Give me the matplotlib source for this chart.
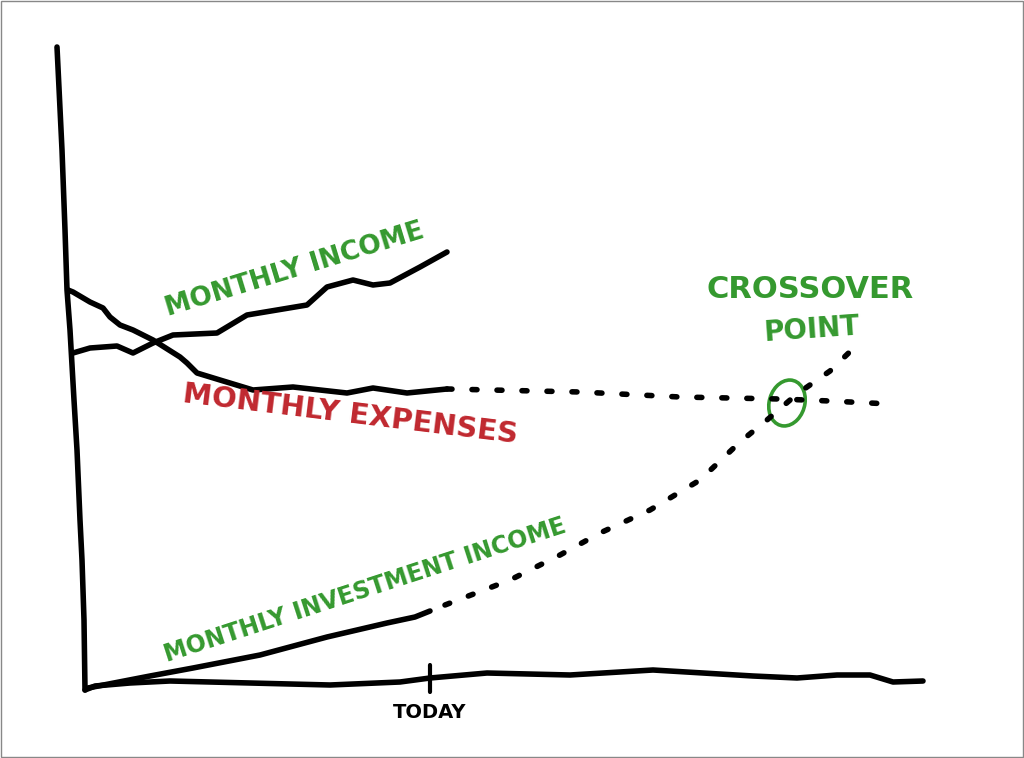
import matplotlib
matplotlib.use('Agg')
import matplotlib.pyplot as plt
from matplotlib.patches import Ellipse, Rectangle

GREEN = '#35992f'
RED = '#c0282f'

# hand drawn axes (x = months, y = dollars, arbitrary units)
yaxis_x = [-2.3, -2.1, -1.8, -1.5, -1.3, -1.0, -0.6, -0.3, 0.0, 0.2, 0.4, 0.5]
yaxis_y = [128.2, 120.0, 107.6, 91.6, 79.6, 71.6, 57.6, 47.6, 33.6, 25.6, 13.6, -0.4]
xaxis_x = [0.5, 1.5, 5.0, 9.0, 17.0, 25.0, 32.0, 35.0, 40.7, 49.0, 57.3, 67.3, 71.7, 75.7, 79.0, 81.3, 84.3]
xaxis_y = [-0.4, 0.4, 1.0, 1.4, 1.0, 0.6, 1.2, 2.0, 3.0, 2.6, 3.6, 2.4, 2.0, 2.6, 2.6, 1.2, 1.4]
today = 35

# monthly expenses: history + projection
exp_x = [-1.2, -0.7, 1.0, 2.3, 3.0, 4.0, 5.3, 7.3, 10.0, 10.7, 11.7, 14.0, 17.3, 21.3, 26.7, 29.3, 32.7, 36.7]
exp_y = [79.6, 79.2, 77.2, 76.0, 74.2, 72.6, 71.6, 69.6, 66.2, 65.0, 63.0, 61.6, 59.6, 60.2, 59.0, 60.0, 59.0, 59.8]
exp_proj_x = [36.7, 50, 60, 70, 75, 81]
exp_proj_y = [59.8, 59.2, 58.2, 57.8, 57.4, 56.8]

# monthly income
inc_x = [-0.7, 1.0, 3.7, 5.3, 7.3, 9.3, 13.7, 16.7, 22.7, 24.7, 27.3, 29.3, 31.0, 34.0, 36.7]
inc_y = [67.0, 68.0, 68.4, 67.0, 69.0, 70.6, 71.0, 74.6, 76.6, 80.2, 81.6, 80.6, 81.0, 84.2, 87.2]

# monthly investment income: history + projection
inv_x = [0.8, 7.0, 11.3, 18.0, 24.7, 30.7, 33.5, 35.0]
inv_y = [0.0, 2.4, 4.0, 6.6, 10.2, 13.0, 14.2, 15.4]
inv_proj_x = [36.5, 43, 48, 52, 57, 62, 66, 68.7, 71.7, 75, 78.2]
inv_proj_y = [16.6, 21.6, 26.6, 31.0, 35.6, 41.6, 49.2, 53.6, 58.8, 63.4, 69.6]

crossover = (70.7, 57.0)

fig = plt.figure(figsize=(10.24, 7.58), dpi=100)
ax = fig.add_axes([0, 0, 1, 1])
ax.set_xlim(-8, 94.4)
ax.set_ylim(-14, 137.6)
ax.axis('off')

solid = dict(color='k', lw=4, solid_capstyle='round', solid_joinstyle='round')
dots = dict(color='k', lw=4, linestyle=(0, (0.9, 3.6)), dash_capstyle='round')

ax.plot(yaxis_x, yaxis_y, **solid)
ax.plot(xaxis_x, xaxis_y, **solid)
ax.plot([today, today], [-0.8, 4.6], color='k', lw=3, solid_capstyle='round')

ax.plot(exp_x, exp_y, **solid)
ax.plot(exp_proj_x, exp_proj_y, **dots)
ax.plot(inc_x, inc_y, **solid)
ax.plot(inv_x, inv_y, **solid)
ax.plot(inv_proj_x, inv_proj_y, **dots)

ax.add_patch(Ellipse(crossover, 3.6, 9.2, angle=-4, fill=False, ec=GREEN, lw=2.6))

fnt = dict(family='DejaVu Sans', fontweight='bold', ha='center', va='center')
ax.text(21.5, 83.6, 'MONTHLY INCOME', color=GREEN, fontsize=19, rotation=17, **fnt)
ax.text(27, 54.6, 'MONTHLY EXPENSES', color=RED, fontsize=21, rotation=-7, **fnt)
ax.text(73, 79.6, 'CROSSOVER', color=GREEN, fontsize=22, **fnt)
ax.text(73.2, 71.6, 'POINT', color=GREEN, fontsize=20, rotation=4, **fnt)
ax.text(28.5, 19.6, 'MONTHLY INVESTMENT INCOME', color=GREEN, fontsize=17, rotation=18, **fnt)
ax.text(today, -5, 'TODAY', color='k', fontsize=14, **fnt)

fig.add_artist(Rectangle((0.001, 0.001), 0.998, 0.998, transform=fig.transFigure,
                         fill=False, ec='#888888', lw=1))

plt.savefig('out.png', dpi=100)
